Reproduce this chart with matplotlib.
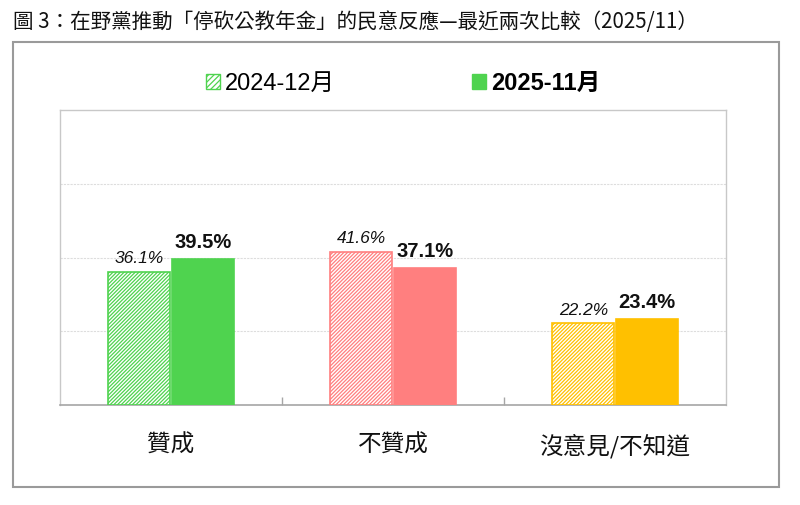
import matplotlib
matplotlib.use("Agg")
import matplotlib.pyplot as plt
from matplotlib.patches import Rectangle, Patch
import numpy as np

categories = ["贊成", "不贊成", "沒意見/不知道"]
series_names = ["2024-12月", "2025-11月"]
values_2024 = [36.1, 41.6, 22.2]
values_2025 = [39.5, 37.1, 23.4]
colors = ["#4fd34f", "#ff7f7f", "#ffc000"]
title = "圖 3：在野黨推動「停砍公教年金」的民意反應—最近兩次比較（2025/11）"

FONT = ["Liberation Sans", "Noto Sans CJK TC", "DejaVu Sans"]
plt.rcParams["font.family"] = FONT
plt.rcParams["hatch.linewidth"] = 0.9

fig = plt.figure(figsize=(8, 5.05), dpi=100)
W, H = 800, 505

# outer frame
fig.patches.append(Rectangle((13 / W, 1 - 487 / H), (779 - 13) / W, (487 - 42) / H,
                             transform=fig.transFigure, fill=False,
                             edgecolor="#9a9a9a", linewidth=1.5))

fig.text(13 / W, 1 - 22 / H, title, fontsize=14.8, va="center", ha="left",
         family=["Noto Sans CJK TC", "DejaVu Sans"], color="#111111")

ax = fig.add_axes([60 / W, 1 - 405 / H, (726 - 60) / W, (405 - 110) / H])
x = np.arange(len(categories))
w = 0.28
off = 0.143

for i in range(len(categories)):
    ax.bar(x[i] - off, values_2024[i], width=w, facecolor="white",
           edgecolor=colors[i], hatch="/////////", linewidth=1.2, zorder=3)
    ax.bar(x[i] + off, values_2025[i], width=w, facecolor=colors[i],
           edgecolor=colors[i], linewidth=1.2, zorder=3)
    ax.annotate(f"{values_2024[i]}%", (x[i] - off, values_2024[i]),
                xytext=(0, 4), textcoords="offset points", ha="center",
                va="bottom", fontsize=12.5, style="italic", color="#111111")
    ax.annotate(f"{values_2025[i]}%", (x[i] + off, values_2025[i]),
                xytext=(0, 5), textcoords="offset points", ha="center",
                va="bottom", fontsize=14.5, fontweight="bold", color="#111111")

ax.set_xlim(-0.5, 2.5)
ax.set_ylim(0, 80)
ax.set_yticks([20, 40, 60])
ax.yaxis.grid(True, color="#dddddd", linewidth=0.8, linestyle=(0, (2, 1)))
ax.set_axisbelow(True)
ax.tick_params(axis="y", left=False, labelleft=False)
ax.set_xticks(x)
ax.set_xticklabels(categories, fontsize=17, fontweight="medium",
                   family=["Noto Sans CJK TC", "DejaVu Sans"], color="#111111")
ax.tick_params(axis="x", which="major", length=0, pad=21)
ax.set_xticks([0.5, 1.5], minor=True)
ax.tick_params(axis="x", which="minor", direction="in", length=6, color="#a6a6a6", width=1)
for s in ["left", "top", "right"]:
    ax.spines[s].set_color("#c8c8c8")
    ax.spines[s].set_linewidth(1)
ax.spines["bottom"].set_color("#a6a6a6")
ax.spines["bottom"].set_linewidth(1.2)

# legend
handles = [Patch(facecolor="white", edgecolor=colors[0], hatch="//////", linewidth=1),
           Patch(facecolor=colors[0], edgecolor=colors[0], linewidth=1)]
leg = fig.legend(handles, series_names, loc="center", bbox_to_anchor=(403 / W, 1 - 83 / H),
                 ncol=2, frameon=False, fontsize=17, handlelength=0.6, handleheight=0.6,
                 handletextpad=0.2, columnspacing=5.8)
leg.get_texts()[1].set_fontweight("bold")

fig.savefig("out.png", dpi=100)
